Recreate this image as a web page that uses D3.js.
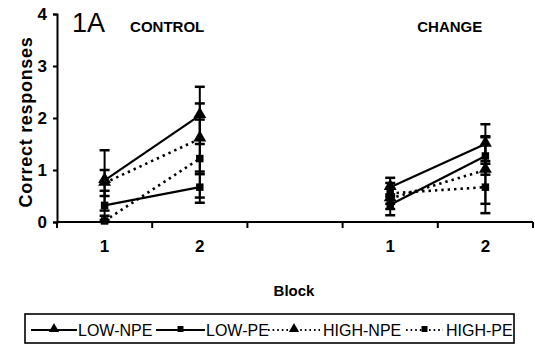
<!DOCTYPE html>
<html>
<head>
<meta charset="utf-8">
<script src="https://cdn.jsdelivr.net/npm/d3@7"></script>
<style>
  html, body { margin: 0; padding: 0; background: #fff; }
  svg { display: block; }
  text { font-family: "Liberation Sans Narrow", "Arial Narrow", "Liberation Sans", Arial, sans-serif; fill: #000; }
</style>
</head>
<body>
<svg id="chart" width="535" height="356"></svg>
<script>
// Block positions along the x axis (the empty slot separates the two conditions)
const blocks = ["1", "2", "", "1", "2"];
const yTicks = [0, 1, 2, 3, 4];
const seriesNames = ["LOW-NPE", "LOW-PE", "HIGH-NPE", "HIGH-PE"];

// Mean correct responses per block
const lowNpe  = [0.80, 2.05, null, 0.67, 1.50];
const lowPe   = [0.32, 0.67, null, 0.33, 1.27];
const highNpe = [0.75, 1.60, null, 0.45, 1.00];
const highPe  = [0.02, 1.22, null, 0.55, 0.67];

// Error bar half-widths
const lowNpeErr  = [0.58, 0.55, null, 0.18, 0.38];
const lowPeErr   = [0.28, 0.30, null, 0.20, 0.36];
const highNpeErr = [0.25, 0.68, null, 0.20, 0.65];
const highPeErr  = [0.10, 0.75, null, 0.20, 0.50];

const svg = d3.select("#chart");

const x = d3.scaleBand().domain(d3.range(blocks.length)).range([57, 533]).padding(0);
const y = d3.scaleLinear().domain([0, 4]).range([222, 14]);
const cx = i => x(i) + x.bandwidth() / 2;

const series = [
  { name: seriesNames[0], vals: lowNpe,  err: lowNpeErr,  shape: "tri", dash: null },
  { name: seriesNames[1], vals: lowPe,   err: lowPeErr,   shape: "sq",  dash: null },
  { name: seriesNames[2], vals: highNpe, err: highNpeErr, shape: "tri", dash: "2.4,4" },
  { name: seriesNames[3], vals: highPe,  err: highPeErr,  shape: "sq",  dash: "2.4,4" }
];

const triPath = d3.symbol().type(d3.symbolTriangle).size(72)();
const sqPath = d3.symbol().type(d3.symbolSquare).size(56)();

// Y axis
const yAxis = svg.append("g")
  .attr("transform", `translate(${x.range()[0]},0)`)
  .call(d3.axisLeft(y).tickValues(yTicks).tickSize(4).tickPadding(6).tickFormat(d3.format("d")));
yAxis.select(".domain").attr("stroke", "#000").attr("stroke-width", 2);
yAxis.selectAll(".tick line").attr("stroke", "#000").attr("stroke-width", 2);
yAxis.selectAll(".tick text").attr("font-size", 17).attr("font-weight", "bold");

// X axis: labels at block centres, tick marks at block boundaries
const xAxis = svg.append("g")
  .attr("transform", `translate(0,${y(0)})`)
  .call(d3.axisBottom(x).tickSize(0).tickPadding(18).tickFormat(i => blocks[i]));
xAxis.select(".domain").remove();
xAxis.selectAll(".tick text").attr("font-size", 17).attr("font-weight", "bold");
svg.append("line")
  .attr("x1", x.range()[0]).attr("x2", x.range()[1])
  .attr("y1", y(0)).attr("y2", y(0))
  .attr("stroke", "#000").attr("stroke-width", 2);
const bounds = d3.range(blocks.length + 1).map(i => i < blocks.length ? x(i) : x.range()[1]);
svg.append("g").selectAll("line").data(bounds).join("line")
  .attr("x1", d => d).attr("x2", d => d)
  .attr("y1", y(0)).attr("y2", y(0) + 6)
  .attr("stroke", "#000").attr("stroke-width", 2);

// Axis titles
svg.append("text")
  .attr("transform", `translate(32,${(y(0) + y(4)) / 2 + 4}) rotate(-90)`)
  .attr("text-anchor", "middle")
  .attr("font-size", 18).attr("font-weight", "bold").attr("letter-spacing", 0.7)
  .attr("font-family", "Liberation Sans, Arial, sans-serif")
  .text("Correct responses");
svg.append("text")
  .attr("x", 294).attr("y", 296)
  .attr("text-anchor", "middle")
  .attr("font-size", 15).attr("font-weight", "bold")
  .attr("font-family", "Liberation Sans, Arial, sans-serif")
  .text("Block");

// Panel labels
svg.append("text").attr("x", 72).attr("y", 32)
  .attr("font-size", 27).attr("font-family", "Liberation Sans, Arial, sans-serif").text("1A");
svg.append("text").attr("x", (cx(0) + cx(1)) / 2 + 15).attr("y", 32)
  .attr("text-anchor", "middle").attr("font-size", 15).attr("font-weight", "bold").text("CONTROL");
svg.append("text").attr("x", (cx(3) + cx(4)) / 2 + 12).attr("y", 32)
  .attr("text-anchor", "middle").attr("font-size", 15).attr("font-weight", "bold").text("CHANGE");

// Series: error bars, lines, markers
const plot = svg.append("g");
const segments = [[0, 1], [3, 4]];
series.forEach(s => {
  const g = plot.append("g");
  s.vals.forEach((v, i) => {
    if (v == null) return;
    const e = s.err[i];
    const top = y(v + e), bot = y(Math.max(0, v - e));
    g.append("line").attr("x1", cx(i)).attr("x2", cx(i)).attr("y1", top).attr("y2", bot)
      .attr("stroke", "#000").attr("stroke-width", 2);
    [top, bot].forEach(yy => {
      g.append("line").attr("x1", cx(i) - 5).attr("x2", cx(i) + 5).attr("y1", yy).attr("y2", yy)
        .attr("stroke", "#000").attr("stroke-width", 2.5);
    });
  });
  const line = d3.line().x(i => cx(i)).y(i => y(s.vals[i]));
  segments.forEach(seg => {
    g.append("path").attr("d", line(seg)).attr("fill", "none")
      .attr("stroke", "#000").attr("stroke-width", s.dash ? 2.6 : 2.2)
      .attr("stroke-dasharray", s.dash);
  });
  s.vals.forEach((v, i) => {
    if (v == null) return;
    g.append("path").attr("d", s.shape === "tri" ? triPath : sqPath)
      .attr("transform", `translate(${cx(i)},${y(v) + (s.shape === "tri" ? -1 : 0)})`)
      .attr("fill", "#000");
  });
});

// Legend
const legend = svg.append("g");
legend.append("rect").attr("x", 25).attr("y", 314).attr("width", 489).attr("height", 29)
  .attr("fill", "none").attr("stroke", "#000").attr("stroke-width", 1.6);
const legendItems = [
  { x0: 31, x1: 77, tx: 78 },
  { x0: 156, x1: 205, tx: 206 },
  { x0: 268, x1: 320, tx: 323 },
  { x0: 406, x1: 443, tx: 446 }
];
series.forEach((s, k) => {
  const it = legendItems[k];
  const ly = 330;
  legend.append("line").attr("x1", it.x0).attr("x2", it.x1).attr("y1", ly).attr("y2", ly)
    .attr("stroke", "#000").attr("stroke-width", s.dash ? 1.8 : 2).attr("stroke-dasharray", s.dash ? "1.6,3" : null);
  legend.append("path").attr("d", s.shape === "tri" ? triPath : sqPath)
    .attr("transform", `translate(${(it.x0 + it.x1) / 2},${ly - 1}) scale(0.8)`).attr("fill", "#000");
  legend.append("text").attr("x", it.tx).attr("y", ly + 6).attr("font-size", 16).text(s.name);
});
</script>
</body>
</html>
